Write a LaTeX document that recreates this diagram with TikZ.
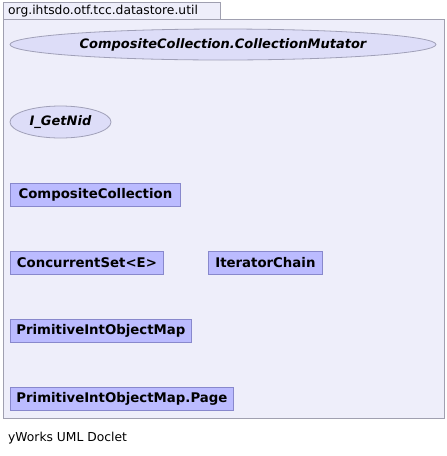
\documentclass[tikz,border=0pt]{standalone}
\usepackage{fontspec}
\setmainfont{DejaVu Sans}
\usepackage{tikz}
\usetikzlibrary{shapes.geometric, positioning}
\definecolor{pkgback}{RGB}{238,238,250}
\definecolor{pkgline}{RGB}{160,160,176}
\definecolor{classfill}{RGB}{187,187,255}
\definecolor{classline}{RGB}{136,136,204}
\definecolor{ifacefill}{RGB}{221,221,248}
\definecolor{ifaceline}{RGB}{160,160,184}
\tikzset{
  classbox/.style={rectangle, draw=classline, fill=classfill, anchor=west, minimum height=23pt, inner sep=0pt, font=\fontsize{13.3}{15}\selectfont\bfseries, line width=0.8pt},
  iface/.style={ellipse, draw=ifaceline, fill=ifacefill, inner sep=0pt, font=\fontsize{13}{15}\selectfont\bfseries\itshape, line width=0.8pt},
  pkgtext/.style={anchor=west, inner sep=0pt, font=\fontsize{12.3}{14}\selectfont}
}

\begin{document}
\begin{tikzpicture}[x=1pt, y=-1pt]
  \useasboundingbox (0,0) rectangle (447,456);

  % Package frame
  \draw[pkgline, fill=pkgback, line width=0.8pt] (3,2) rectangle (220,19);
  \draw[pkgline, fill=pkgback, line width=0.8pt] (3,19) rectangle (444,418);
  \node[pkgtext] (pkgname) at (8,11) {org.ihtsdo.otf.tcc.datastore.util};

  % Interfaces
  \node[iface, minimum width=426pt, minimum height=31pt] (mutator) at (223,44.5) {CompositeCollection.CollectionMutator};
  \node[iface, minimum width=101pt, minimum height=32pt] (getnid) at (60.5,122) {I\_GetNid};

  % Classes
  \node[classbox, minimum width=170pt] (composite) at (10,194.5) {CompositeCollection};
  \node[classbox, minimum width=153pt] (concurrent) at (10,262.5) {ConcurrentSet<E>};
  \node[classbox, minimum width=114pt] (iterchain) at (208,262.5) {IteratorChain};
  \node[classbox, minimum width=181pt] (intmap) at (10,331) {PrimitiveIntObjectMap};
  \node[classbox, minimum width=223pt] (intmappage) at (10,399) {PrimitiveIntObjectMap.Page};

  % Footer
  \node[pkgtext] (doclet) at (8,438) {yWorks UML Doclet};
\end{tikzpicture}
\end{document}
